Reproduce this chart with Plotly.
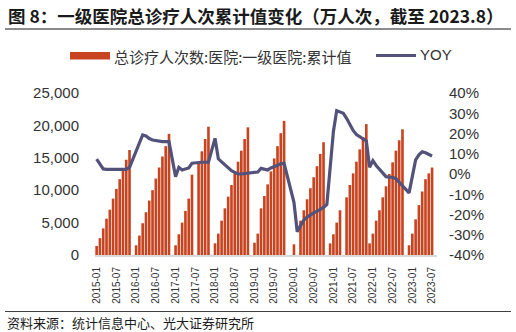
import plotly.graph_objects as go

# ---------------- data ----------------
years = list(range(2015, 2024))
months = [f"{y}-{m:02d}" for y in years for m in range(1, 13)][:104]
tick_labels = months[::6]
yoy_ticks = [-40, -30, -20, -10, 0, 10, 20, 30, 40]
yoy_tick_text = ["-40%", "-30%", "-20%", "-10%", "0%", "10%", "20%", "30%", "40%"]
visit_ticks = [0, 5000, 10000, 15000, 20000, 25000]

# 总诊疗人次数:医院:一级医院:累计值 (万人次), one list per year (12 slots)
visits_2015 = [1400, 2600, 4100, 5600, 7000, 8700, 10200, 11700, 13200, 14700, 16200, None]
visits_2016 = [1500, 3000, 4900, 6600, 8400, 10000, 11800, 13500, 15200, 16800, 18700, None]
visits_2017 = [1500, 3200, 5000, 6800, 8700, 12400, None, 14400, 16000, 17900, 19800, None]
visits_2018 = [1800, 3300, 5300, 7200, 9000, 10800, 12700, 14400, 16100, 17900, 19700, None]
visits_2019 = [1900, 3300, 7200, 9100, 10900, 12900, 14900, 16800, 18800, 20700, None, None]
visits_2020 = [1650, None, 5300, 6900, 8600, 10300, 12000, 13700, 15600, 17400, None, 1800]
visits_2021 = [3200, 5000, 6900, None, 8900, 10800, 12600, 14400, 16300, 18200, 20200, 1800]
visits_2022 = [3300, 5300, 6900, 8900, 10600, 12500, 14300, 16100, 17700, 19400, None, 1500]
visits_2023 = [3300, 5500, 7700, 9800, 11700, 12600, 13500, None]

# YOY (%)
yoy_2015 = [7.3, 5.0, 2.5, 2.3, 2.3, 2.3, 2.3, 2.3, 2.3, 2.3, 3.3, None]
yoy_2016 = [11.5, 15.5, 19.3, 18.8, 17.5, 16.8, 16.4, 16.1, 16.0, 16.0, 16.0, None]
yoy_2017 = [-1.3, 3.3, 2.0, 2.3, 3.0, 5.3, None, 5.8, 5.8, 5.8, 5.8, None]
yoy_2018 = [17.6, 7.5, 6.0, 4.4, 3.0, 1.6, 0.8, 0.0, 0.0, 0.2, 0.3, None]
yoy_2019 = [0.6, 1.0, 2.8, 2.2, 2.0, 3.0, 3.5, 4.3, 5.0, 5.3, None, None]
yoy_2020 = [-14.0, -28.5, -25.5, -22.8, -21.3, -20.0, -19.2, -18.4, -17.5, -16.5, -15.0, 3.0]
yoy_2021 = [21.0, 31.3, 30.8, 30.0, 27.5, 24.5, 21.5, 19.5, 18.3, 17.3, 16.3, 3.3]
yoy_2022 = [6.6, 4.2, 2.5, 0.3, -1.3, -1.5, -1.6, -2.3, -4.0, -5.8, -7.5, -9.3]
yoy_2023 = [-1.2, 7.0, 9.5, 11.0, 10.5, 9.8, 8.9, None]

visits = (visits_2015 + visits_2016 + visits_2017 + visits_2018 + visits_2019
          + visits_2020 + visits_2021 + visits_2022 + visits_2023)
yoy = (yoy_2015 + yoy_2016 + yoy_2017 + yoy_2018 + yoy_2019
       + yoy_2020 + yoy_2021 + yoy_2022 + yoy_2023)

bar_name = "总诊疗人次数:医院:一级医院:累计值"
line_name = "YOY"
title_text = "图 8：一级医院总诊疗人次累计值变化（万人次，截至 2023.8）"
source_text = "资料来源：统计信息中心、光大证券研究所"

# ---------------- style ----------------
W, H = 516, 332
L, R, T, B = 95, 79, 93, 77
PW, PH = W - L - R, H - T - B
BAR_C = "#C8431F"
LINE_C = "#52527A"
TXT_C = "#333333"
CJK = "Noto Sans CJK SC"
LAT = "Liberation Sans, Arial"


def px(x):
    return (x - L) / PW


def py(y):
    return (H - B - y) / PH


fig = go.Figure()
fig.add_trace(go.Bar(x=months, y=visits, name=bar_name, marker_color=BAR_C,
                     marker_line_width=0, showlegend=False))
fig.add_trace(go.Scatter(x=months, y=yoy, name=line_name, yaxis="y2",
                         mode="lines", connectgaps=True,
                         line=dict(color=LINE_C, width=3.2), showlegend=False))

fig.update_layout(
    width=W, height=H,
    margin=dict(l=L, r=R, t=T, b=B, pad=0),
    paper_bgcolor="white", plot_bgcolor="white",
    bargap=0.2,
    xaxis=dict(type="category", categoryorder="array", categoryarray=months,
               tickmode="array", tickvals=tick_labels, ticktext=tick_labels,
               tickangle=-90, tickfont=dict(family=LAT, size=10, color=TXT_C),
               showline=True, linecolor="#D9D9D9", linewidth=2,
               showgrid=False, zeroline=False, ticks="outside", ticklen=6,
               tickcolor="rgba(0,0,0,0)"),
    yaxis=dict(range=[0, 25000], tickmode="array", tickvals=visit_ticks,
               ticktext=[f"{v:,}" for v in visit_ticks],
               showgrid=False, zeroline=False, showline=False,
               ticks="outside", ticklen=12, tickcolor="rgba(0,0,0,0)",
               tickfont=dict(family=LAT, size=15, color=TXT_C)),
    yaxis2=dict(range=[-40, 40], tickmode="array", tickvals=yoy_ticks,
                ticktext=yoy_tick_text, overlaying="y", side="right",
                showgrid=False, zeroline=False, showline=False,
                ticks="outside", ticklen=8, tickcolor="rgba(0,0,0,0)",
                tickfont=dict(family=LAT, size=15, color=TXT_C)),
)

shapes = [
    # rule under title
    dict(type="line", xref="paper", yref="paper", x0=px(5), x1=px(511),
         y0=py(29), y1=py(29), line=dict(color="#8C8C8C", width=2)),
    # legend swatches
    dict(type="rect", xref="paper", yref="paper", x0=px(70), x1=px(110),
         y0=py(52), y1=py(59.5), fillcolor=BAR_C, line=dict(width=0)),
    dict(type="line", xref="paper", yref="paper", x0=px(376), x1=px(416),
         y0=py(55.5), y1=py(55.5), line=dict(color=LINE_C, width=3)),
    # rule above source
    dict(type="line", xref="paper", yref="paper", x0=px(5), x1=px(511),
         y0=py(311.5), y1=py(311.5), line=dict(color="#404040", width=1)),
]
annotations = [
    dict(text=title_text, xref="paper", yref="paper", x=px(6), y=py(15),
         xanchor="left", yanchor="middle", showarrow=False,
         font=dict(family=CJK, size=17.5, color="#1A1A1A", weight="bold")),
    dict(text=bar_name, xref="paper", yref="paper", x=px(112), y=py(56),
         xanchor="left", yanchor="middle", showarrow=False,
         font=dict(family=CJK, size=15, color=TXT_C)),
    dict(text=line_name, xref="paper", yref="paper", x=px(418), y=py(54),
         xanchor="left", yanchor="middle", showarrow=False,
         font=dict(family=LAT, size=15, color=TXT_C)),
    dict(text=source_text, xref="paper", yref="paper", x=px(5), y=py(322),
         xanchor="left", yanchor="middle", showarrow=False,
         font=dict(family=CJK, size=13, color="#1A1A1A")),
]
fig.update_layout(shapes=shapes, annotations=annotations)

fig.write_html("out.html")
